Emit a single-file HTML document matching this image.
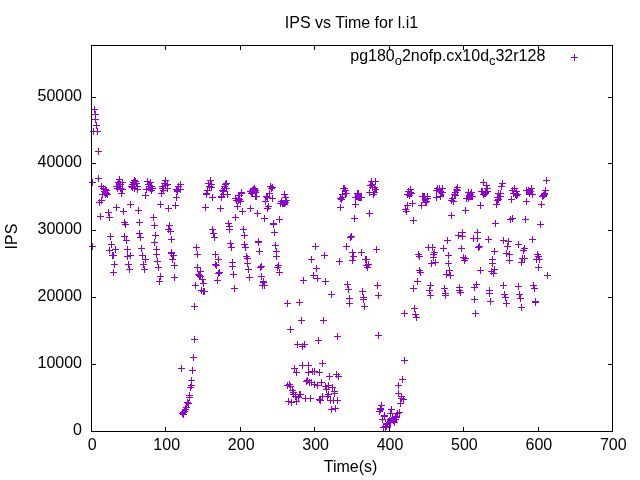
<!DOCTYPE html><html><head><meta charset="utf-8"><style>html,body{margin:0;padding:0;background:#fff}svg{display:block;will-change:transform}text{font-family:"Liberation Sans",sans-serif;font-size:16px;fill:#000}</style></head><body>
<svg width="640" height="480" viewBox="0 0 640 480">
<rect width="640" height="480" fill="#fff"/>
<text x="92.3" y="450" text-anchor="middle">0</text>
<text x="166.7" y="450" text-anchor="middle">100</text>
<text x="241.2" y="450" text-anchor="middle">200</text>
<text x="315.6" y="450" text-anchor="middle">300</text>
<text x="390.0" y="450" text-anchor="middle">400</text>
<text x="464.4" y="450" text-anchor="middle">500</text>
<text x="538.9" y="450" text-anchor="middle">600</text>
<text x="613.3" y="450" text-anchor="middle">700</text>
<text x="82" y="434.7" text-anchor="end">0</text>
<text x="82" y="367.7" text-anchor="end">10000</text>
<text x="82" y="300.7" text-anchor="end">20000</text>
<text x="82" y="233.7" text-anchor="end">30000</text>
<text x="82" y="166.7" text-anchor="end">40000</text>
<text x="82" y="100.7" text-anchor="end">50000</text>
<text x="351.5" y="27.5" text-anchor="middle">IPS vs Time for l.i1</text>
<text x="350.6" y="472" text-anchor="middle">Time(s)</text>
<text transform="translate(17,236.5) rotate(-90)" text-anchor="middle">IPS</text>
<text x="545.3" y="61" text-anchor="end">pg180<tspan dy="3.5" font-size="12.8px">o</tspan><tspan dy="-3.5">2nofp.cx10d</tspan><tspan dy="3.5" font-size="12.8px">c</tspan><tspan dy="-3.5">32r128</tspan></text>
<path d="M571 57.5h7M574.5 54v7M89 182.5h7M92.5 179v7M89 246.5h7M92.5 243v7M90 131.5h7M93.5 128v7M91 109.5h7M94.5 106v7M92 114.5h7M95.5 111v7M92 119.5h7M95.5 116v7M93 125.5h7M96.5 122v7M94 131.5h7M97.5 128v7M95 151.5h7M98.5 148v7M95 178.5h7M98.5 175v7M96 202.5h7M99.5 199v7M97 216.5h7M100.5 213v7M98 186.5h7M101.5 183v7M98 200.5h7M101.5 197v7M99 194.5h7M102.5 191v7M100 188.5h7M103.5 185v7M101 191.5h7M104.5 188v7M102 189.5h7M105.5 186v7M102 192.5h7M105.5 189v7M102 194.5h7M105.5 191v7M103 190.5h7M106.5 187v7M103 193.5h7M106.5 190v7M104 194.5h7M107.5 191v7M105 212.5h7M108.5 209v7M106 217.5h7M109.5 214v7M106 250.5h7M109.5 247v7M107 236.5h7M110.5 233v7M108 244.5h7M111.5 241v7M109 255.5h7M112.5 252v7M110 255.5h7M113.5 252v7M110 272.5h7M113.5 269v7M111 264.5h7M114.5 261v7M112 249.5h7M115.5 246v7M113 186.5h7M116.5 183v7M113 207.5h7M116.5 204v7M114 188.5h7M117.5 185v7M115 182.5h7M118.5 179v7M116 179.5h7M119.5 176v7M116 186.5h7M119.5 183v7M117 184.5h7M120.5 181v7M117 188.5h7M120.5 185v7M118 193.5h7M121.5 190v7M119 182.5h7M122.5 179v7M119 189.5h7M122.5 186v7M120 211.5h7M123.5 208v7M121 222.5h7M124.5 219v7M121 236.5h7M124.5 233v7M122 224.5h7M125.5 221v7M123 240.5h7M126.5 237v7M124 249.5h7M127.5 246v7M124 256.5h7M127.5 253v7M125 264.5h7M128.5 261v7M126 269.5h7M129.5 266v7M127 204.5h7M130.5 201v7M127 255.5h7M130.5 252v7M128 186.5h7M131.5 183v7M129 184.5h7M132.5 181v7M129 187.5h7M132.5 184v7M130 182.5h7M133.5 179v7M131 180.5h7M134.5 177v7M131 188.5h7M134.5 185v7M132 181.5h7M135.5 178v7M133 183.5h7M136.5 180v7M134 186.5h7M137.5 183v7M134 189.5h7M137.5 186v7M135 210.5h7M138.5 207v7M136 222.5h7M139.5 219v7M136 233.5h7M139.5 230v7M137 237.5h7M140.5 234v7M138 248.5h7M141.5 245v7M139 255.5h7M142.5 252v7M140 264.5h7M143.5 261v7M141 269.5h7M144.5 266v7M142 195.5h7M145.5 192v7M142 259.5h7M145.5 256v7M143 189.5h7M146.5 186v7M144 181.5h7M147.5 178v7M145 184.5h7M148.5 181v7M146 186.5h7M149.5 183v7M147 182.5h7M150.5 179v7M147 188.5h7M150.5 185v7M148 186.5h7M151.5 183v7M148 190.5h7M151.5 187v7M149 188.5h7M152.5 185v7M150 217.5h7M153.5 214v7M151 225.5h7M154.5 222v7M151 242.5h7M154.5 239v7M152 235.5h7M155.5 232v7M153 249.5h7M156.5 246v7M153 254.5h7M156.5 251v7M154 261.5h7M157.5 258v7M155 267.5h7M158.5 264v7M156 281.5h7M159.5 278v7M157 204.5h7M160.5 201v7M157 276.5h7M160.5 273v7M158 193.5h7M161.5 190v7M159 186.5h7M162.5 183v7M159 188.5h7M162.5 185v7M160 190.5h7M163.5 187v7M161 183.5h7M164.5 180v7M162 180.5h7M165.5 177v7M162 185.5h7M165.5 182v7M164 184.5h7M167.5 181v7M164 188.5h7M167.5 185v7M165 208.5h7M168.5 205v7M165 229.5h7M168.5 226v7M166 225.5h7M169.5 222v7M167 231.5h7M170.5 228v7M168 239.5h7M171.5 236v7M168 252.5h7M171.5 249v7M168 253.5h7M171.5 250v7M169 259.5h7M172.5 256v7M170 255.5h7M173.5 252v7M171 265.5h7M174.5 262v7M171 277.5h7M174.5 274v7M172 205.5h7M175.5 202v7M173 189.5h7M176.5 186v7M173 197.5h7M176.5 194v7M174 190.5h7M177.5 187v7M174 191.5h7M177.5 188v7M175 186.5h7M178.5 183v7M177 184.5h7M180.5 181v7M177 189.5h7M180.5 186v7M178 368.5h7M181.5 365v7M179 413.5h7M182.5 410v7M180 412.5h7M183.5 409v7M180 414.5h7M183.5 411v7M181 411.5h7M184.5 408v7M182 409.5h7M185.5 406v7M183 407.5h7M186.5 404v7M184 402.5h7M187.5 399v7M185 403.5h7M188.5 400v7M186 395.5h7M189.5 392v7M186 397.5h7M189.5 394v7M187 387.5h7M190.5 384v7M188 380.5h7M191.5 377v7M188 385.5h7M191.5 382v7M189 370.5h7M192.5 367v7M190 357.5h7M193.5 354v7M191 306.5h7M194.5 303v7M191 339.5h7M194.5 336v7M192 285.5h7M195.5 282v7M193 247.5h7M196.5 244v7M194 254.5h7M197.5 251v7M194 267.5h7M197.5 264v7M195 274.5h7M198.5 271v7M196 275.5h7M199.5 272v7M197 271.5h7M200.5 268v7M197 276.5h7M200.5 273v7M198 290.5h7M201.5 287v7M199 279.5h7M202.5 276v7M200 283.5h7M203.5 280v7M200 291.5h7M203.5 288v7M201 291.5h7M204.5 288v7M202 207.5h7M205.5 204v7M203 193.5h7M206.5 190v7M203 194.5h7M206.5 191v7M204 190.5h7M207.5 187v7M205 183.5h7M208.5 180v7M206 186.5h7M209.5 183v7M207 180.5h7M210.5 177v7M208 184.5h7M211.5 181v7M208 187.5h7M211.5 184v7M209 197.5h7M212.5 194v7M209 229.5h7M212.5 226v7M210 233.5h7M213.5 230v7M211 237.5h7M214.5 234v7M212 254.5h7M215.5 251v7M212 264.5h7M215.5 261v7M213 265.5h7M216.5 262v7M214 280.5h7M217.5 277v7M215 259.5h7M218.5 256v7M215 273.5h7M218.5 270v7M216 272.5h7M219.5 269v7M217 208.5h7M220.5 205v7M218 196.5h7M221.5 193v7M218 197.5h7M221.5 194v7M219 190.5h7M222.5 187v7M220 191.5h7M223.5 188v7M220 194.5h7M223.5 191v7M221 186.5h7M224.5 183v7M221 188.5h7M224.5 185v7M222 184.5h7M225.5 181v7M223 183.5h7M226.5 180v7M223 188.5h7M226.5 185v7M224 194.5h7M227.5 191v7M225 223.5h7M228.5 220v7M226 226.5h7M229.5 223v7M226 229.5h7M229.5 226v7M227 243.5h7M230.5 240v7M228 247.5h7M231.5 244v7M229 262.5h7M232.5 259v7M229 266.5h7M232.5 263v7M230 274.5h7M233.5 271v7M231 288.5h7M234.5 285v7M232 198.5h7M235.5 195v7M232 217.5h7M235.5 214v7M233 200.5h7M236.5 197v7M234 206.5h7M237.5 203v7M235 195.5h7M238.5 192v7M235 198.5h7M238.5 195v7M235 200.5h7M238.5 197v7M236 195.5h7M239.5 192v7M236 199.5h7M239.5 196v7M237 201.5h7M240.5 198v7M238 192.5h7M241.5 189v7M238 193.5h7M241.5 190v7M239 211.5h7M242.5 208v7M240 229.5h7M243.5 226v7M241 235.5h7M244.5 232v7M241 244.5h7M244.5 241v7M242 247.5h7M245.5 244v7M243 256.5h7M246.5 253v7M244 258.5h7M247.5 255v7M244 263.5h7M247.5 260v7M245 269.5h7M248.5 266v7M246 277.5h7M249.5 274v7M247 191.5h7M250.5 188v7M247 208.5h7M250.5 205v7M248 193.5h7M251.5 190v7M249 190.5h7M252.5 187v7M249 192.5h7M252.5 189v7M249 193.5h7M252.5 190v7M250 189.5h7M253.5 186v7M251 188.5h7M254.5 185v7M252 190.5h7M255.5 187v7M252 192.5h7M255.5 189v7M252 196.5h7M255.5 193v7M253 196.5h7M256.5 193v7M254 213.5h7M257.5 210v7M255 241.5h7M258.5 238v7M255 242.5h7M258.5 239v7M256 251.5h7M259.5 248v7M257 267.5h7M260.5 264v7M258 266.5h7M261.5 263v7M258 276.5h7M261.5 273v7M259 285.5h7M262.5 282v7M260 281.5h7M263.5 278v7M260 282.5h7M263.5 279v7M261 218.5h7M264.5 215v7M261 285.5h7M264.5 282v7M262 201.5h7M265.5 198v7M263 196.5h7M266.5 193v7M264 197.5h7M267.5 194v7M264 208.5h7M267.5 205v7M265 206.5h7M268.5 203v7M266 193.5h7M269.5 190v7M267 186.5h7M270.5 183v7M268 188.5h7M271.5 185v7M269 187.5h7M272.5 184v7M269 198.5h7M272.5 195v7M270 223.5h7M273.5 220v7M270 224.5h7M273.5 221v7M271 232.5h7M274.5 229v7M272 245.5h7M275.5 242v7M273 251.5h7M276.5 248v7M273 256.5h7M276.5 253v7M274 267.5h7M277.5 264v7M275 265.5h7M278.5 262v7M276 219.5h7M279.5 216v7M276 272.5h7M279.5 269v7M277 203.5h7M280.5 200v7M278 201.5h7M281.5 198v7M279 203.5h7M282.5 200v7M280 203.5h7M283.5 200v7M281 194.5h7M284.5 191v7M281 203.5h7M284.5 200v7M282 197.5h7M285.5 194v7M282 202.5h7M285.5 199v7M283 200.5h7M286.5 197v7M284 303.5h7M287.5 300v7M284 385.5h7M287.5 382v7M285 401.5h7M288.5 398v7M286 384.5h7M289.5 381v7M287 329.5h7M290.5 326v7M287 386.5h7M290.5 383v7M288 402.5h7M291.5 399v7M289 390.5h7M292.5 387v7M290 392.5h7M293.5 389v7M290 394.5h7M293.5 391v7M291 368.5h7M294.5 365v7M292 396.5h7M295.5 393v7M293 372.5h7M296.5 369v7M293 401.5h7M296.5 398v7M294 344.5h7M297.5 341v7M295 397.5h7M298.5 394v7M296 302.5h7M299.5 299v7M296 394.5h7M299.5 391v7M297 394.5h7M300.5 391v7M298 320.5h7M301.5 317v7M299 346.5h7M302.5 343v7M299 365.5h7M302.5 362v7M300 280.5h7M303.5 277v7M301 344.5h7M304.5 341v7M302 398.5h7M305.5 395v7M303 381.5h7M306.5 378v7M304 380.5h7M307.5 377v7M305 365.5h7M308.5 362v7M305 372.5h7M308.5 369v7M306 382.5h7M309.5 379v7M307 398.5h7M310.5 395v7M308 259.5h7M311.5 256v7M308 382.5h7M311.5 379v7M309 371.5h7M312.5 368v7M310 275.5h7M313.5 272v7M311 371.5h7M314.5 368v7M311 384.5h7M314.5 381v7M312 246.5h7M315.5 243v7M313 268.5h7M316.5 265v7M314 278.5h7M317.5 275v7M314 385.5h7M317.5 382v7M315 340.5h7M318.5 337v7M316 372.5h7M319.5 369v7M316 399.5h7M319.5 396v7M317 400.5h7M320.5 397v7M318 382.5h7M321.5 379v7M319 363.5h7M322.5 360v7M319 396.5h7M322.5 393v7M320 320.5h7M323.5 317v7M321 255.5h7M324.5 252v7M322 281.5h7M325.5 278v7M322 386.5h7M325.5 383v7M323 389.5h7M326.5 386v7M324 396.5h7M327.5 393v7M325 385.5h7M328.5 382v7M325 394.5h7M328.5 391v7M326 376.5h7M329.5 373v7M327 400.5h7M330.5 397v7M328 294.5h7M331.5 291v7M328 409.5h7M331.5 406v7M329 387.5h7M332.5 384v7M330 400.5h7M333.5 397v7M331 391.5h7M334.5 388v7M331 393.5h7M334.5 390v7M332 408.5h7M335.5 405v7M333 374.5h7M336.5 371v7M334 336.5h7M337.5 333v7M334 400.5h7M337.5 397v7M335 376.5h7M338.5 373v7M336 261.5h7M339.5 258v7M337 198.5h7M340.5 195v7M337 207.5h7M340.5 204v7M338 199.5h7M341.5 196v7M339 194.5h7M342.5 191v7M339 197.5h7M342.5 194v7M340 188.5h7M343.5 185v7M341 188.5h7M344.5 185v7M342 190.5h7M345.5 187v7M342 193.5h7M345.5 190v7M343 193.5h7M346.5 190v7M343 246.5h7M346.5 243v7M344 284.5h7M347.5 281v7M345 289.5h7M348.5 286v7M346 298.5h7M349.5 295v7M346 303.5h7M349.5 300v7M347 237.5h7M350.5 234v7M348 236.5h7M351.5 233v7M349 252.5h7M352.5 249v7M349 260.5h7M352.5 257v7M350 256.5h7M353.5 253v7M351 218.5h7M354.5 215v7M352 197.5h7M355.5 194v7M352 204.5h7M355.5 201v7M354 193.5h7M357.5 190v7M355 193.5h7M358.5 190v7M358 197.5h7M361.5 194v7M358 252.5h7M361.5 249v7M359 291.5h7M362.5 288v7M360 297.5h7M363.5 294v7M360 299.5h7M363.5 296v7M361 306.5h7M364.5 303v7M362 259.5h7M365.5 256v7M363 259.5h7M366.5 256v7M363 265.5h7M366.5 262v7M364 267.5h7M367.5 264v7M365 264.5h7M368.5 261v7M366 192.5h7M369.5 189v7M366 213.5h7M369.5 210v7M367 185.5h7M370.5 182v7M368 181.5h7M371.5 178v7M369 184.5h7M372.5 181v7M369 187.5h7M372.5 184v7M370 194.5h7M373.5 191v7M371 187.5h7M374.5 184v7M371 192.5h7M374.5 189v7M372 181.5h7M375.5 178v7M372 189.5h7M375.5 186v7M373 249.5h7M376.5 246v7M374 285.5h7M377.5 282v7M375 295.5h7M378.5 292v7M375 335.5h7M378.5 332v7M376 411.5h7M379.5 408v7M377 408.5h7M380.5 405v7M377 409.5h7M380.5 406v7M378 405.5h7M381.5 402v7M379 419.5h7M382.5 416v7M380 427.5h7M383.5 424v7M381 415.5h7M384.5 412v7M381 416.5h7M384.5 413v7M382 427.5h7M385.5 424v7M383 426.5h7M386.5 423v7M387 413.5h7M390.5 410v7M387 422.5h7M390.5 419v7M388 409.5h7M391.5 406v7M390 420.5h7M393.5 417v7M391 422.5h7M394.5 419v7M392 416.5h7M395.5 413v7M392 419.5h7M395.5 416v7M393 417.5h7M396.5 414v7M394 413.5h7M397.5 410v7M395 385.5h7M398.5 382v7M395 393.5h7M398.5 390v7M396 412.5h7M399.5 409v7M397 403.5h7M400.5 400v7M398 396.5h7M401.5 393v7M398 398.5h7M401.5 395v7M399 379.5h7M402.5 376v7M400 399.5h7M403.5 396v7M401 313.5h7M404.5 310v7M401 360.5h7M404.5 357v7M402 209.5h7M405.5 206v7M403 211.5h7M406.5 208v7M404 194.5h7M407.5 191v7M404 205.5h7M407.5 202v7M405 191.5h7M408.5 188v7M406 195.5h7M409.5 192v7M407 189.5h7M410.5 186v7M407 192.5h7M410.5 189v7M408 193.5h7M411.5 190v7M409 203.5h7M412.5 200v7M410 220.5h7M413.5 217v7M410 288.5h7M413.5 285v7M411 308.5h7M414.5 305v7M412 314.5h7M415.5 311v7M413 317.5h7M416.5 314v7M414 281.5h7M417.5 278v7M415 254.5h7M418.5 251v7M416 256.5h7M419.5 253v7M416 270.5h7M419.5 267v7M417 272.5h7M420.5 269v7M418 205.5h7M421.5 202v7M419 196.5h7M422.5 193v7M420 196.5h7M423.5 193v7M421 196.5h7M424.5 193v7M422 199.5h7M425.5 196v7M422 202.5h7M425.5 199v7M423 201.5h7M426.5 198v7M424 196.5h7M427.5 193v7M424 198.5h7M427.5 195v7M425 247.5h7M428.5 244v7M426 290.5h7M429.5 287v7M427 285.5h7M430.5 282v7M427 295.5h7M430.5 292v7M428 263.5h7M431.5 260v7M429 247.5h7M432.5 244v7M430 254.5h7M433.5 251v7M430 257.5h7M433.5 254v7M431 252.5h7M434.5 249v7M432 262.5h7M435.5 259v7M433 190.5h7M436.5 187v7M433 197.5h7M436.5 194v7M434 188.5h7M437.5 185v7M436 188.5h7M439.5 185v7M436 190.5h7M439.5 187v7M437 191.5h7M440.5 188v7M437 196.5h7M440.5 193v7M438 192.5h7M441.5 189v7M439 188.5h7M442.5 185v7M439 192.5h7M442.5 189v7M440 248.5h7M443.5 245v7M441 288.5h7M444.5 285v7M442 293.5h7M445.5 290v7M442 295.5h7M445.5 292v7M443 274.5h7M446.5 271v7M444 240.5h7M447.5 237v7M445 255.5h7M448.5 252v7M445 263.5h7M448.5 260v7M446 270.5h7M449.5 267v7M447 275.5h7M450.5 272v7M448 200.5h7M451.5 197v7M448 215.5h7M451.5 212v7M449 198.5h7M452.5 195v7M450 201.5h7M453.5 198v7M451 194.5h7M454.5 191v7M452 192.5h7M455.5 189v7M452 195.5h7M455.5 192v7M453 189.5h7M456.5 186v7M454 187.5h7M457.5 184v7M454 190.5h7M457.5 187v7M455 235.5h7M458.5 232v7M456 287.5h7M459.5 284v7M456 290.5h7M459.5 287v7M457 292.5h7M460.5 289v7M458 248.5h7M461.5 245v7M459 232.5h7M462.5 229v7M459 236.5h7M462.5 233v7M460 257.5h7M463.5 254v7M461 260.5h7M464.5 257v7M462 210.5h7M465.5 207v7M462 258.5h7M465.5 255v7M463 198.5h7M466.5 195v7M465 192.5h7M468.5 189v7M465 198.5h7M468.5 195v7M467 194.5h7M470.5 191v7M468 192.5h7M471.5 189v7M469 196.5h7M472.5 193v7M470 238.5h7M473.5 235v7M471 287.5h7M474.5 284v7M471 299.5h7M474.5 296v7M472 313.5h7M475.5 310v7M473 284.5h7M476.5 281v7M474 232.5h7M477.5 229v7M474 238.5h7M477.5 235v7M475 247.5h7M478.5 244v7M476 246.5h7M479.5 243v7M477 205.5h7M480.5 202v7M477 270.5h7M480.5 267v7M478 191.5h7M481.5 188v7M480 182.5h7M483.5 179v7M480 194.5h7M483.5 191v7M482 192.5h7M485.5 189v7M483 185.5h7M486.5 182v7M484 188.5h7M487.5 185v7M484 191.5h7M487.5 188v7M485 239.5h7M488.5 236v7M486 290.5h7M489.5 287v7M486 293.5h7M489.5 290v7M487 301.5h7M490.5 298v7M488 271.5h7M491.5 268v7M489 259.5h7M492.5 256v7M489 263.5h7M492.5 260v7M490 273.5h7M493.5 270v7M491 251.5h7M494.5 248v7M491 269.5h7M494.5 266v7M492 223.5h7M495.5 220v7M493 204.5h7M496.5 201v7M494 197.5h7M497.5 194v7M494 200.5h7M497.5 197v7M495 193.5h7M498.5 190v7M495 199.5h7M498.5 196v7M497 193.5h7M500.5 190v7M497 196.5h7M500.5 193v7M498 186.5h7M501.5 183v7M499 183.5h7M502.5 180v7M500 240.5h7M503.5 237v7M500 285.5h7M503.5 282v7M501 294.5h7M504.5 291v7M502 297.5h7M505.5 294v7M503 253.5h7M506.5 250v7M503 303.5h7M506.5 300v7M504 246.5h7M507.5 243v7M505 241.5h7M508.5 238v7M506 254.5h7M509.5 251v7M506 260.5h7M509.5 257v7M507 219.5h7M510.5 216v7M508 199.5h7M511.5 196v7M509 190.5h7M512.5 187v7M509 218.5h7M512.5 215v7M510 193.5h7M513.5 190v7M511 188.5h7M514.5 185v7M513 191.5h7M516.5 188v7M513 195.5h7M516.5 192v7M514 194.5h7M517.5 191v7M515 244.5h7M518.5 241v7M515 286.5h7M518.5 283v7M516 294.5h7M519.5 291v7M517 298.5h7M520.5 295v7M518 262.5h7M521.5 259v7M518 307.5h7M521.5 304v7M519 258.5h7M522.5 255v7M520 250.5h7M523.5 247v7M521 248.5h7M524.5 245v7M521 258.5h7M524.5 255v7M522 219.5h7M525.5 216v7M523 190.5h7M526.5 187v7M523 201.5h7M526.5 198v7M525 190.5h7M528.5 187v7M526 193.5h7M529.5 190v7M527 191.5h7M530.5 188v7M528 188.5h7M531.5 185v7M529 194.5h7M532.5 191v7M529 239.5h7M532.5 236v7M530 285.5h7M533.5 282v7M531 288.5h7M534.5 285v7M532 301.5h7M535.5 298v7M532 302.5h7M535.5 299v7M533 259.5h7M536.5 256v7M534 254.5h7M537.5 251v7M535 256.5h7M538.5 253v7M535 267.5h7M538.5 264v7M536 259.5h7M539.5 256v7M537 224.5h7M540.5 221v7M538 204.5h7M541.5 201v7M539 196.5h7M542.5 193v7M540 195.5h7M543.5 192v7M541 193.5h7M544.5 190v7M541 194.5h7M544.5 191v7M542 190.5h7M545.5 187v7M543 180.5h7M546.5 177v7M544 275.5h7M547.5 272v7" stroke="#9400d3" stroke-width="1" fill="none"/>
<path d="M250 189h8v4h-8zM280 200h8v5h-8zM357 193h5v1h-5zM356 194h6v1h-6zM355 195h7v4h-7zM356 199h6v1h-6zM358 200h4v1h-4zM370 183h3v4h-3zM374 188h3v4h-3zM104 189h4v7h-4zM117 181h4v9h-4zM407 191h5v6h-5zM422 193h3v8h-3zM425 198h3v3h-3zM425 203h2v3h-2zM438 189h5v3h-5zM440 194h4v1h-4zM441 195h3v1h-3zM467 193h6v3h-6zM466 196h7v4h-7zM481 191h8v3h-8zM482 194h5v2h-5zM483 196h3v1h-3zM485 188h3v3h-3zM481 188h2v3h-2zM497 193h4v7h-4zM514 193h5v3h-5zM515 196h3v2h-3zM526 189h7v6h-7zM542 193h5v4h-5zM185 405h2v2h-2zM183 409h4v4h-4zM381 410h2v1h-2zM392 414h1v1h-1zM392 415h1v1h-1zM399 416h1v1h-1zM389 417h1v1h-1zM391 417h2v1h-2zM388 418h5v1h-5zM394 418h1v1h-1zM387 419h3v1h-3zM391 419h1v1h-1zM385 420h1v1h-1zM387 420h3v1h-3zM385 421h1v1h-1zM387 421h3v1h-3zM391 421h2v1h-2zM396 421h1v1h-1zM386 422h1v1h-1zM383 423h3v1h-3zM387 423h3v1h-3zM384 424h1v1h-1zM387 424h3v1h-3zM387 425h1v1h-1zM389 425h1v1h-1zM382 426h1v1h-1zM390 426h1v1h-1zM390 427h1v1h-1z" fill="#9400d3" stroke="none"/>
<path d="M91.5 432.0v-5M91.5 45.0v5M165.5 432.0v-5M165.5 45.0v5M240.5 432.0v-5M240.5 45.0v5M314.5 432.0v-5M314.5 45.0v5M389.5 432.0v-5M389.5 45.0v5M463.5 432.0v-5M463.5 45.0v5M538.5 432.0v-5M538.5 45.0v5M612.5 432.0v-5M612.5 45.0v5M91.0 431.5h5M613.0 431.5h-5M91.0 364.5h5M613.0 364.5h-5M91.0 297.5h5M613.0 297.5h-5M91.0 230.5h5M613.0 230.5h-5M91.0 163.5h5M613.0 163.5h-5M91.0 97.5h5M613.0 97.5h-5" stroke="#000" stroke-width="1" fill="none"/>
<rect x="91.5" y="45.5" width="521.0" height="386.0" fill="none" stroke="#000" stroke-width="1"/>
</svg></body></html>
